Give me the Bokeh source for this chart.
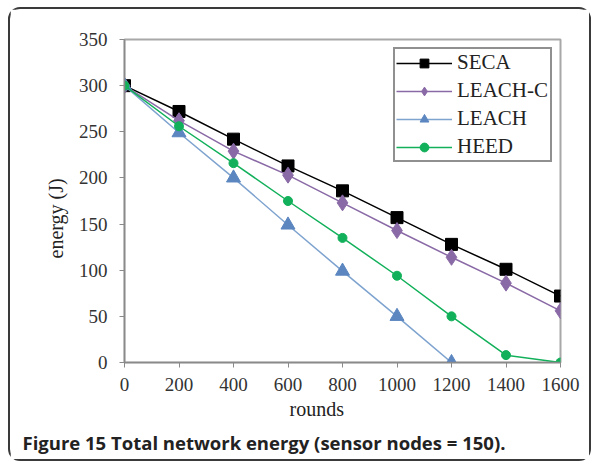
from bokeh.plotting import figure
from bokeh.models import Range1d, FixedTicker, Legend, LegendItem, Title
from bokeh.embed import file_html
from bokeh.resources import INLINE

rounds = [0, 200, 400, 600, 800, 1000, 1200, 1400, 1600]
seca = [300, 272, 242, 213, 186, 157, 128, 101, 72]
leach_c = [300, 262, 229, 203, 173, 143, 114, 86, 56]
leach_x = [0, 200, 400, 600, 800, 1000, 1200]
leach = [300, 249, 200, 149, 99, 50, 0]
heed = [300, 256, 216, 175, 135, 94, 50, 8, 0]
x_ticks = [0, 200, 400, 600, 800, 1000, 1200, 1400, 1600]
y_ticks = [0, 50, 100, 150, 200, 250, 300, 350]

SERIF = "Liberation Serif"

p = figure(width=583, height=454, output_backend="svg", toolbar_location=None,
           x_range=Range1d(0, 1600), y_range=Range1d(0, 350),
           min_border_left=114, min_border_right=33, min_border_top=30, min_border_bottom=101)
p.styles = {"border": "2px solid #3a3a3a", "border-radius": "12px",
            "margin-left": "8px", "margin-top": "7px"}
p.background_fill_color = "white"
p.border_fill_color = "white"
p.outline_line_color = "#a8a8a8"
p.outline_line_width = 2
p.grid.visible = False

for ax in (p.xaxis[0], p.yaxis[0]):
    ax.axis_line_color = "#8a8a8a"
    ax.axis_line_width = 1.5
    ax.major_tick_line_color = "#8a8a8a"
    ax.major_tick_out = 5
    ax.major_tick_in = 0
    ax.minor_tick_line_color = None
    ax.major_label_text_font = SERIF
    ax.major_label_text_font_size = "19px"
    ax.major_label_text_color = "#333333"

p.xaxis.ticker = FixedTicker(ticks=x_ticks)
p.yaxis.ticker = FixedTicker(ticks=y_ticks)
p.xaxis.major_label_standoff = 10
p.yaxis.major_label_standoff = 12

c_seca = "#000000"
c_lc = "#8a6aa6"
c_l = "#5b86c0"
c_h = "#12b05a"

l1 = p.line(rounds, seca, line_color=c_seca, line_width=1.5)
m1 = p.scatter(rounds, seca, marker="square", size=12, fill_color=c_seca, line_color=c_seca)
l2 = p.line(rounds, leach_c, line_color=c_lc, line_width=1.5)
m2 = p.scatter(rounds, leach_c, marker="diamond", size=16, fill_color=c_lc, line_color=c_lc)
l3 = p.line(leach_x, leach, line_color="#7ea3cf", line_width=1.5)
m3 = p.scatter(leach_x, leach, marker="triangle", size=14, fill_color=c_l, line_color=c_l)
l4 = p.line(rounds, heed, line_color=c_h, line_width=1.5)
m4 = p.scatter(rounds, heed, marker="circle", size=9, fill_color=c_h, line_color=c_h)

legend = Legend(items=[
    LegendItem(label="SECA", renderers=[l1, m1]),
    LegendItem(label="LEACH-C", renderers=[l2, m2]),
    LegendItem(label="LEACH", renderers=[l3, m3]),
    LegendItem(label="HEED", renderers=[l4, m4]),
], location="top_right")
legend.label_text_font = SERIF
legend.label_text_font_size = "21px"
legend.label_text_color = "#222222"
legend.border_line_color = "#222222"
legend.border_line_width = 2
legend.glyph_width = 56
legend.glyph_height = 22
legend.label_standoff = 5
legend.label_width = 92
legend.spacing = 3
legend.padding = 1
legend.margin = 8
legend.background_fill_alpha = 1
p.add_layout(legend)

ylab = Title(text="energy (J)", align="left", text_font=SERIF, text_font_size="20px",
             text_font_style="normal", text_color="#222222", offset=104, standoff=17)
p.add_layout(ylab, "left")
xlab = Title(text="rounds", align="left", text_font=SERIF, text_font_size="20px",
             text_font_style="normal", text_color="#222222", offset=165, standoff=4)
p.add_layout(xlab, "below")
cap = Title(text="Figure 15 Total network energy (sensor nodes = 150).", align="left",
            text_font="Open Sans", text_font_style="bold", text_font_size="18.5px",
            text_color="#222222", offset=-102, standoff=13)
p.add_layout(cap, "below")

open("out.html", "w").write(file_html(p, INLINE))
